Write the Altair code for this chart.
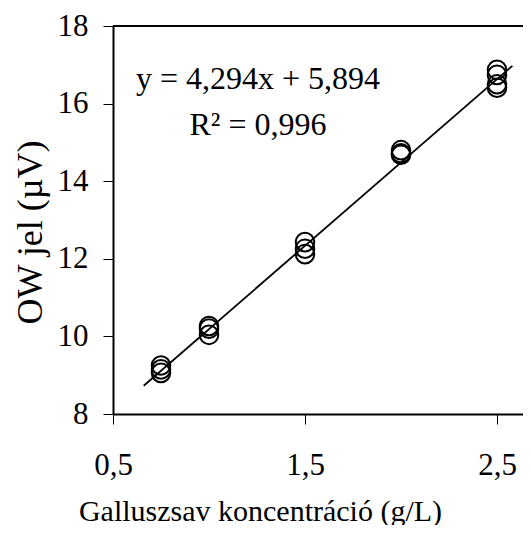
import altair as alt
import pandas as pd

# Data
conc = [0.75, 0.75, 0.75, 1.0, 1.0, 1.0, 1.5, 1.5, 1.5, 2.0, 2.0, 2.0, 2.5, 2.5, 2.5, 2.5]
signal = [9.25, 9.15, 9.06, 10.27, 10.2, 10.04, 12.43, 12.26, 12.12, 14.8, 14.72, 14.68, 16.87, 16.74, 16.5, 16.41]

slope = 4.294
intercept = 5.894
fit_x = [0.66, 2.58]
fit_y = [slope * v + intercept for v in fit_x]

eq_text = ["y = 4,294x + 5,894", "R² = 0,996"]
eq_x = [1.255, 1.255]
eq_y = [16.38, 15.18]

x_ticks = [0.5, 1.5, 2.5]
y_ticks = [8, 10, 12, 14, 16, 18]

FONT = "Liberation Serif"
W, H = 410, 388
PX_PER_UNIT = 192.0

pts = pd.DataFrame({"x": conc, "y": signal})
fit = pd.DataFrame({"x": fit_x, "y": fit_y})
ann = pd.DataFrame({"x": eq_x, "y": eq_y, "t": eq_text})

xscale = alt.Scale(domain=[0.5, 0.5 + W / PX_PER_UNIT], nice=False, zero=False)
yscale = alt.Scale(domain=[8, 18], nice=False, zero=False)

xaxis = alt.Axis(
    values=x_ticks,
    title="Galluszsav koncentráció (g/L)",
    labelExpr="replace(format(datum.value, '.1f'), '.', ',')",
    grid=False,
    domainColor="black", domainWidth=2,
    tickColor="black", tickWidth=1, tickSize=10,
    labelFont=FONT, labelFontSize=31, labelColor="black",
    labelBaseline="alphabetic", labelPadding=50, labelFlush=False, labelOverlap=False,
    titleFont=FONT, titleFontSize=30, titleFontWeight="normal", titleColor="black",
    titleX=147, titleY=106, titleAlign="center", titleBaseline="alphabetic",
)
yaxis = alt.Axis(
    values=y_ticks,
    title="OW jel (µV)",
    grid=False,
    domainColor="black", domainWidth=2,
    tickColor="black", tickWidth=1, tickSize=10,
    labelFont=FONT, labelFontSize=31, labelColor="black",
    labelPadding=15, labelFlush=False, labelOverlap=False,
    titleFont=FONT, titleFontSize=36, titleFontWeight="normal", titleColor="black",
    titleAngle=270, titleX=-72, titleY=206, titleAlign="center", titleBaseline="alphabetic",
)

points = alt.Chart(pts).mark_point(
    shape="circle", filled=False, color="black", size=345, strokeWidth=2, opacity=1
).encode(
    x=alt.X("x:Q", scale=xscale, axis=xaxis),
    y=alt.Y("y:Q", scale=yscale, axis=yaxis),
)

line = alt.Chart(fit).mark_line(color="black", strokeWidth=1.8).encode(
    x=alt.X("x:Q", scale=xscale),
    y=alt.Y("y:Q", scale=yscale),
)

text = alt.Chart(ann).mark_text(
    font=FONT, fontSize=32, color="black", align="center", baseline="alphabetic"
).encode(
    x=alt.X("x:Q", scale=xscale),
    y=alt.Y("y:Q", scale=yscale),
    text="t:N",
)

top_border = alt.Chart(alt.Data(values=[{"a": 1}])).mark_rule(
    color="black", strokeWidth=2
).encode(x=alt.value(0), x2=alt.value(W), y=alt.value(0))

chart = alt.layer(points, line, text, top_border).properties(
    width=W, height=H,
    autosize=alt.AutoSizeParams(type="none"),
    padding={"left": 105, "top": 18, "right": 0, "bottom": 111},
).configure_view(stroke=None).configure(background="white")

chart.save("out.html", embed_options={"renderer": "svg", "actions": False})
